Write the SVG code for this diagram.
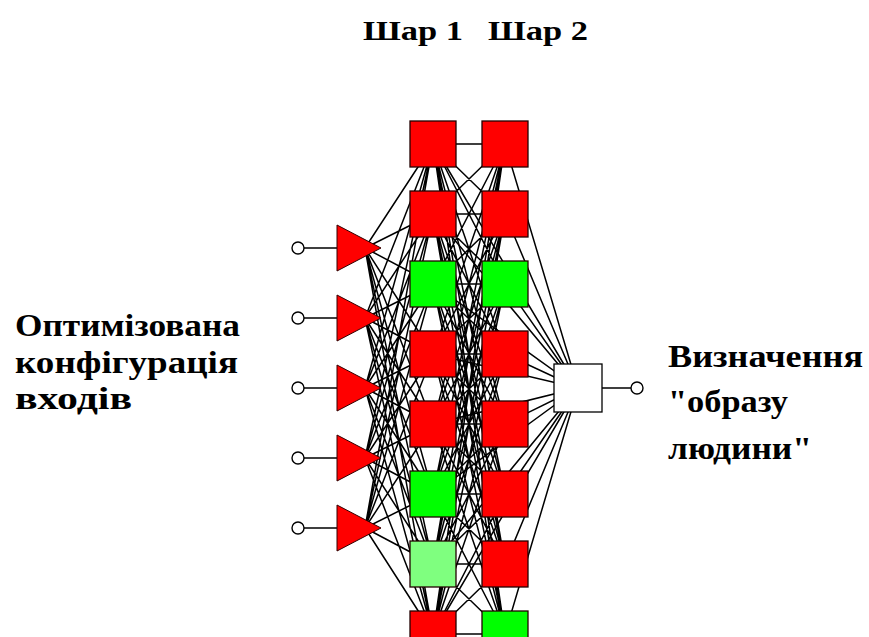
<svg xmlns="http://www.w3.org/2000/svg" width="869" height="637" viewBox="0 0 869 637">
<style>
.w{stroke:#000;stroke-width:1.5;fill:none}
.sq{stroke:#200;stroke-width:1.3}
.r{fill:#ff0000}
.g{fill:#00ff00}
.lg{fill:#7fff7f}
.tri{fill:#ff0000;stroke:#300;stroke-width:1}
.io{fill:#fff;stroke:#000;stroke-width:1.4}
.t{font-family:'Liberation Serif','DejaVu Serif',serif;font-weight:bold;fill:#000}
</style>
<rect width="869" height="637" fill="#fff"/>
<g id="connectors">
<path class="w" d="M365 248L433 144M365 248L433 214M365 248L433 284M365 248L433 354M365 248L433 424M365 248L433 494M365 248L433 564M365 248L433 634
M365 318L433 144M365 318L433 214M365 318L433 284M365 318L433 354M365 318L433 424M365 318L433 494M365 318L433 564M365 318L433 634
M365 388L433 144M365 388L433 214M365 388L433 284M365 388L433 354M365 388L433 424M365 388L433 494M365 388L433 564M365 388L433 634
M365 458L433 144M365 458L433 214M365 458L433 284M365 458L433 354M365 458L433 424M365 458L433 494M365 458L433 564M365 458L433 634
M365 528L433 144M365 528L433 214M365 528L433 284M365 528L433 354M365 528L433 424M365 528L433 494M365 528L433 564M365 528L433 634"/>
<path class="w" d="M433 144L505 144M433 144L505 214M433 144L505 284M433 144L505 354M433 144L505 424M433 144L505 494M433 144L505 564M433 144L505 634
M433 214L505 144M433 214L505 214M433 214L505 284M433 214L505 354M433 214L505 424M433 214L505 494M433 214L505 564M433 214L505 634
M433 284L505 144M433 284L505 214M433 284L505 284M433 284L505 354M433 284L505 424M433 284L505 494M433 284L505 564M433 284L505 634
M433 354L505 144M433 354L505 214M433 354L505 284M433 354L505 354M433 354L505 424M433 354L505 494M433 354L505 564M433 354L505 634
M433 424L505 144M433 424L505 214M433 424L505 284M433 424L505 354M433 424L505 424M433 424L505 494M433 424L505 564M433 424L505 634
M433 494L505 144M433 494L505 214M433 494L505 284M433 494L505 354M433 494L505 424M433 494L505 494M433 494L505 564M433 494L505 634
M433 564L505 144M433 564L505 214M433 564L505 284M433 564L505 354M433 564L505 424M433 564L505 494M433 564L505 564M433 564L505 634
M433 634L505 144M433 634L505 214M433 634L505 284M433 634L505 354M433 634L505 424M433 634L505 494M433 634L505 564M433 634L505 634"/>
<path class="w" d="M433 144L578 388M433 214L578 388M433 284L578 388M433 354L578 388M433 424L578 388M433 494L578 388M433 564L578 388M433 634L578 388
M505 144L578 388M505 214L578 388M505 284L578 388M505 354L578 388M505 424L578 388M505 494L578 388M505 564L578 388M505 634L578 388"/>
<path class="w" d="M304 248H337M304 318H337M304 388H337M304 458H337M304 528H337M602 388H631"/>
</g>
<g id="inputs">
<g id="in1"><circle class="io" cx="298" cy="248" r="6"/><polygon class="tri" points="337,225 337,271 381,248"/></g>
<g id="in2"><circle class="io" cx="298" cy="318" r="6"/><polygon class="tri" points="337,295 337,341 381,318"/></g>
<g id="in3"><circle class="io" cx="298" cy="388" r="6"/><polygon class="tri" points="337,365 337,411 381,388"/></g>
<g id="in4"><circle class="io" cx="298" cy="458" r="6"/><polygon class="tri" points="337,435 337,481 381,458"/></g>
<g id="in5"><circle class="io" cx="298" cy="528" r="6"/><polygon class="tri" points="337,505 337,551 381,528"/></g>
</g>
<g id="layer1">
<rect id="l1n1" class="sq r" x="410" y="121" width="46" height="46"/>
<rect id="l1n2" class="sq r" x="410" y="191" width="46" height="46"/>
<rect id="l1n3" class="sq g" x="410" y="261" width="46" height="46"/>
<rect id="l1n4" class="sq r" x="410" y="331" width="46" height="46"/>
<rect id="l1n5" class="sq r" x="410" y="401" width="46" height="46"/>
<rect id="l1n6" class="sq g" x="410" y="471" width="46" height="46"/>
<rect id="l1n7" class="sq lg" x="410" y="541" width="46" height="46"/>
<rect id="l1n8" class="sq r" x="410" y="611" width="46" height="46"/>
</g>
<g id="layer2">
<rect id="l2n1" class="sq r" x="482" y="121" width="46" height="46"/>
<rect id="l2n2" class="sq r" x="482" y="191" width="46" height="46"/>
<rect id="l2n3" class="sq g" x="482" y="261" width="46" height="46"/>
<rect id="l2n4" class="sq r" x="482" y="331" width="46" height="46"/>
<rect id="l2n5" class="sq r" x="482" y="401" width="46" height="46"/>
<rect id="l2n6" class="sq r" x="482" y="471" width="46" height="46"/>
<rect id="l2n7" class="sq r" x="482" y="541" width="46" height="46"/>
<rect id="l2n8" class="sq g" x="482" y="611" width="46" height="46"/>
</g>
<g id="output">
<rect x="554" y="364" width="48" height="48" fill="#fff" stroke="#000" stroke-width="1.3"/>
<circle class="io" cx="637" cy="388" r="6"/>
</g>
<g id="labels">
<text class="t" x="363" y="40" font-size="27" textLength="100" lengthAdjust="spacingAndGlyphs">Шар 1</text>
<text class="t" x="488" y="40" font-size="27" textLength="100" lengthAdjust="spacingAndGlyphs">Шар 2</text>
<text class="t" font-size="31"><tspan x="15" y="336" textLength="225" lengthAdjust="spacingAndGlyphs">Оптимізована</tspan><tspan x="15" y="373" textLength="223" lengthAdjust="spacingAndGlyphs">конфігурація</tspan><tspan x="15" y="409" textLength="117" lengthAdjust="spacingAndGlyphs">входів</tspan></text>
<text class="t" font-size="32"><tspan x="668" y="367" textLength="195" lengthAdjust="spacingAndGlyphs">Визначення</tspan><tspan x="668" y="412" textLength="120" lengthAdjust="spacingAndGlyphs">"образу</tspan><tspan x="668" y="459" textLength="144" lengthAdjust="spacingAndGlyphs">людини"</tspan></text>
</g>
</svg>
